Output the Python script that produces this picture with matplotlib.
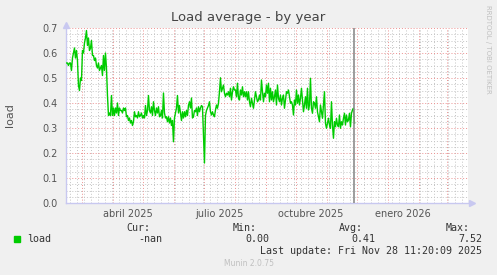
import datetime as dt
import numpy as np
import matplotlib
matplotlib.use("Agg")
import matplotlib.pyplot as plt
import matplotlib.dates as mdates

# daily load values (mid Feb 2025 -> 28 Nov 2025)
load_part1 = [
    0.56, 0.56, 0.55, 0.56, 0.56, 0.53, 0.58, 0.60, 0.62, 0.58, 0.61, 0.57,
    0.47, 0.45, 0.50, 0.49, 0.61, 0.60, 0.64, 0.66, 0.69, 0.63, 0.66, 0.61,
    0.62, 0.65, 0.59, 0.59, 0.57, 0.58, 0.55, 0.54, 0.56, 0.53, 0.54, 0.55,
    0.51, 0.59, 0.53, 0.60, 0.54, 0.43, 0.35, 0.36, 0.35, 0.43, 0.35, 0.38,
    0.35, 0.38, 0.36, 0.40, 0.35, 0.38, 0.37, 0.37, 0.36, 0.38, 0.37, 0.38,
    0.345, 0.35, 0.33, 0.34, 0.32, 0.33, 0.31, 0.325, 0.365, 0.345, 0.35, 0.34,
    0.365, 0.345, 0.35, 0.36, 0.34, 0.35, 0.34, 0.39, 0.35, 0.37, 0.43, 0.37,
    0.36, 0.385, 0.35, 0.405, 0.37, 0.35, 0.38, 0.36, 0.385, 0.345, 0.35, 0.37,
    0.34, 0.44, 0.36, 0.34, 0.345, 0.325, 0.345, 0.32, 0.34, 0.31, 0.33, 0.245,
    0.34, 0.36, 0.38, 0.43, 0.36, 0.39, 0.36, 0.33, 0.365, 0.34, 0.365, 0.345,
    0.37, 0.35, 0.39, 0.405, 0.38, 0.42, 0.34, 0.345, 0.37, 0.365, 0.38, 0.35,
    0.385, 0.365, 0.38, 0.39, 0.385, 0.27, 0.16, 0.35, 0.37, 0.38, 0.39, 0.405,
    0.365,
]
load_part2 = [
    0.352, 0.365, 0.352, 0.345, 0.372, 0.392, 0.379, 0.399, 0.445, 0.501, 0.445, 0.459,
    0.472, 0.439, 0.425, 0.439, 0.432, 0.445, 0.425, 0.459, 0.412, 0.445, 0.465, 0.452,
    0.452, 0.425, 0.479, 0.419, 0.412, 0.452, 0.432, 0.465, 0.425, 0.445, 0.425, 0.445,
    0.412, 0.445, 0.405, 0.385, 0.419, 0.399, 0.379, 0.412, 0.445, 0.425, 0.405, 0.412,
    0.432, 0.412, 0.492, 0.445, 0.405, 0.439, 0.425, 0.472, 0.439, 0.479, 0.405, 0.459,
    0.412, 0.445, 0.405, 0.425, 0.452, 0.392, 0.472, 0.419, 0.405, 0.432, 0.392, 0.419,
    0.432, 0.379, 0.412, 0.445, 0.439, 0.452, 0.425, 0.399, 0.405, 0.392, 0.352, 0.412,
    0.392, 0.452, 0.399, 0.432, 0.392, 0.419, 0.459, 0.412, 0.365, 0.392, 0.425, 0.379,
    0.459, 0.372, 0.392, 0.499, 0.379, 0.359, 0.405, 0.399, 0.379, 0.425, 0.365, 0.345,
    0.325, 0.392, 0.365, 0.339, 0.392, 0.445, 0.319, 0.299, 0.319, 0.339, 0.312, 0.299,
    0.405, 0.312, 0.259, 0.325, 0.305, 0.339, 0.312, 0.305, 0.352, 0.299, 0.325, 0.312,
    0.339, 0.359, 0.312, 0.352, 0.325, 0.332, 0.359, 0.305, 0.359, 0.372, 0.379, 0.319,
]
load = load_part1 + load_part2

last_day = dt.datetime(2025, 11, 28, 11, 20)
x_start = dt.datetime(2025, 2, 13)
x_end = dt.datetime(2026, 3, 22)
quarter_labels = ["abril 2025", "julio 2025", "octubre 2025", "enero 2026"]
quarter_label_days = [dt.datetime(2025, 4, 16), dt.datetime(2025, 7, 16),
                      dt.datetime(2025, 10, 16), dt.datetime(2026, 1, 16)]

legend_heads = ["Cur:", "Min:", "Avg:", "Max:"]
legend_values = ["-nan", "0.00", "0.41", "7.52"]

n = len(load)
days = [last_day - dt.timedelta(days=n - 1 - i) for i in range(n)]

BG = "#f0f0f0"
TXT = "#555555"
AXIS = "#c8c8f0"
W, H = 497, 275

fig = plt.figure(figsize=(W / 100, H / 100), dpi=100, facecolor=BG)
ax = fig.add_axes([66 / W, 1 - 203 / H, (468 - 66) / W, (203 - 28) / H])
ax.set_facecolor("white")

ax.plot(days, load, color="#00cc00", lw=1.0, zorder=3)
ax.axvline(last_day, color="#8c8c8c", lw=1.2, zorder=4)

ax.set_xlim(x_start, x_end)
ax.set_ylim(0, 0.7)

ax.xaxis.set_major_locator(mdates.MonthLocator())
ax.xaxis.set_minor_locator(mdates.WeekdayLocator(byweekday=mdates.MO))
ax.yaxis.set_major_locator(matplotlib.ticker.MultipleLocator(0.1))
ax.yaxis.set_minor_locator(matplotlib.ticker.MultipleLocator(0.025))
ax.xaxis.set_major_formatter(matplotlib.ticker.NullFormatter())
ax.yaxis.set_major_formatter(matplotlib.ticker.FormatStrFormatter("%.1f"))

dots = (0, (1, 2))
ax.grid(which="minor", color="#c4c4c4", lw=0.7, ls=dots, zorder=1)
ax.grid(which="major", color="#ec9090", lw=0.7, ls=dots, zorder=2)
ax.tick_params(which="both", length=0)
ax.tick_params(axis="y", labelsize=7, labelcolor=TXT, pad=6)

for side in ("top", "right"):
    ax.spines[side].set_visible(False)
for side in ("left", "bottom"):
    ax.spines[side].set_color(AXIS)
    ax.spines[side].set_linewidth(1)
ax.plot([0], [1.02], marker="^", color=AXIS, ms=4, transform=ax.transAxes, clip_on=False)
ax.plot([1.01], [0], marker=">", color=AXIS, ms=4, transform=ax.transAxes, clip_on=False)

sec = ax.secondary_xaxis("bottom")
sec.set_xticks(quarter_label_days, quarter_labels)
sec.tick_params(length=0, labelsize=7, labelcolor=TXT, pad=4)
sec.spines["bottom"].set_visible(False)

ax.set_ylabel("load", fontsize=8, color=TXT, labelpad=20)

fig.text(0.5, 1 - 18 / H, "Load average - by year", ha="center", va="center",
         fontsize=9.5, color="#444444")
fig.text(488 / W, 1 - 5 / H, "RRDTOOL / TOBI OETIKER", rotation=270, ha="center",
         va="top", fontsize=5, color="#c0c0c0")

mono = "DejaVu Sans Mono"
fig.patches.append(plt.Rectangle((14 / W, 1 - 242 / H), 6 / W, 6 / H,
                                 transform=fig.transFigure, color="#00cc00"))
fig.text(27 / W, 1 - 239 / H, "load", family=mono, fontsize=7.2, color="#333333", va="center")
for head, val, xr in zip(legend_heads, legend_values, [150, 257, 363, 470]):
    fig.text(xr / W, 1 - 228 / H, head, family=mono, fontsize=7.2, color="#333333",
             ha="right", va="center")
    fig.text((xr + 12) / W, 1 - 239 / H, val, family=mono, fontsize=7.2, color="#333333",
             ha="right", va="center")
fig.text(482 / W, 1 - 251 / H, "Last update: Fri Nov 28 11:20:09 2025", family=mono,
         fontsize=7.2, color="#333333", ha="right", va="center")
fig.text(0.5, 1 - 264 / H, "Munin 2.0.75", ha="center", va="center", fontsize=5.5,
         color="#c0c0c0")

fig.savefig("out.png", dpi=100, facecolor=BG)
